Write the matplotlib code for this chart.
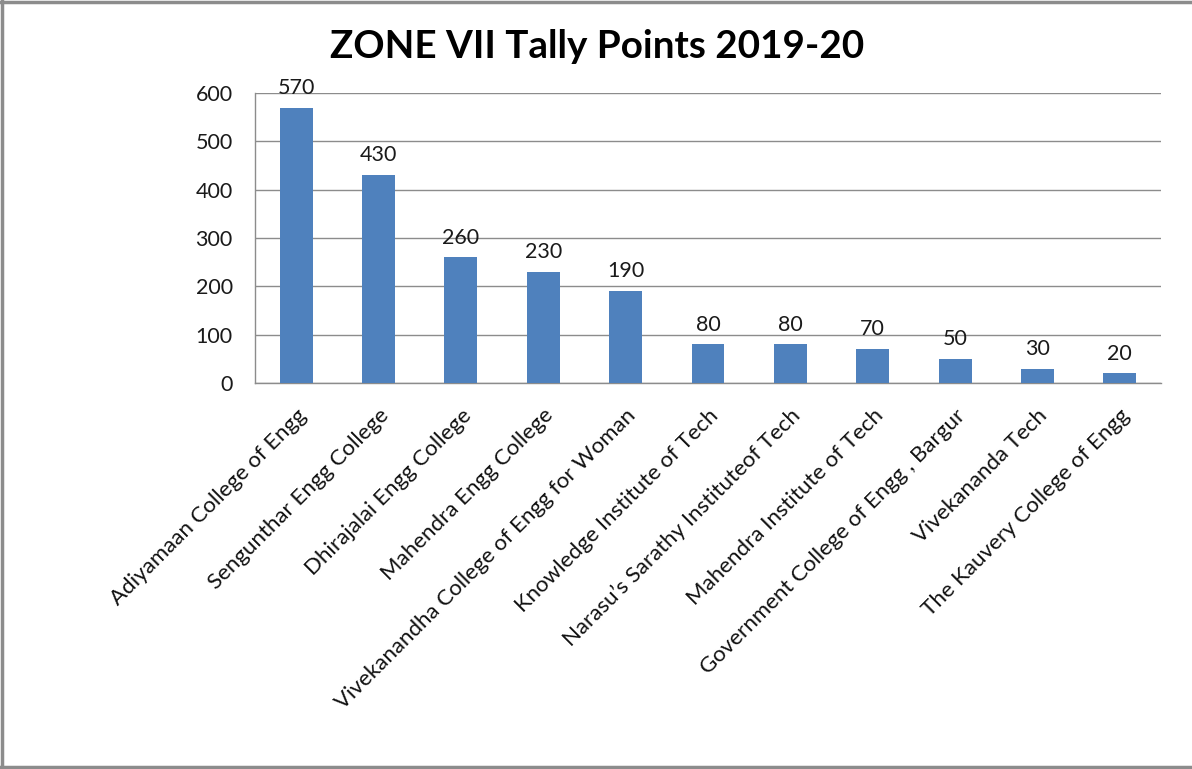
import matplotlib
matplotlib.use("Agg")
import matplotlib.pyplot as plt
from matplotlib.lines import Line2D

colleges = [
    "Adiyamaan College of Engg",
    "Sengunthar Engg College",
    "Dhirajalai Engg College",
    "Mahendra Engg College",
    "Vivekanandha College of Engg for Woman",
    "Knowledge Institute of Tech",
    "Narasu\u2019s Sarathy Instituteof Tech",
    "Mahendra Institute of Tech",
    "Government College of Engg , Bargur",
    "Vivekananda Tech",
    "The Kauvery College of Engg",
]
points = [570, 430, 260, 230, 190, 80, 80, 70, 50, 30, 20]
y_ticks = [0, 100, 200, 300, 400, 500, 600]
title = "ZONE VII Tally Points 2019-20"

plt.rcParams['font.family'] = ['Lato', 'DejaVu Sans']

fig = plt.figure(figsize=(11.92, 7.69), dpi=100)
ax = fig.add_axes([255/1192, 1-383/769, (1161-255)/1192, (383-93)/769])

x = list(range(len(colleges)))
bar_color = "#4F81BD"
ax.bar(x, points, width=0.4, color=bar_color, zorder=3)
for xi, v in zip(x, points):
    ax.annotate(str(v), (xi, v), xytext=(0, 7), textcoords="offset points",
                ha="center", va="bottom", fontsize=15.5, color="#1a1a1a", zorder=4)

ax.set_xlim(-0.5, len(colleges) - 0.5)
ax.set_ylim(0, 600)
ax.set_yticks(y_ticks)
ax.set_yticklabels([str(t) for t in y_ticks], fontsize=15.5, color="#1a1a1a")
ax.yaxis.grid(True, color="#8c8c8c", linewidth=1.0, zorder=0)
ax.set_axisbelow(True)
ax.tick_params(axis="y", length=0, pad=16)
ax.tick_params(axis="x", length=0, pad=16)
ax.set_xticks(x)
ax.set_xticklabels(colleges, rotation=45, ha="right", rotation_mode="anchor",
                   fontsize=16, color="#111111")
for s in ["top", "right"]:
    ax.spines[s].set_visible(False)
for s in ["left", "bottom"]:
    ax.spines[s].set_color("#8c8c8c")
    ax.spines[s].set_linewidth(1.0)

fig.text(597/1192, 1-47/769, title, ha="center", va="center",
         fontsize=27.8, fontweight="bold", color="black")

# chart frame
fc = "#8c8c8c"
fig.add_artist(Line2D([2/1192, 2/1192], [0, 1], transform=fig.transFigure, color=fc, lw=2.5))
fig.add_artist(Line2D([0, 1], [1-2/769, 1-2/769], transform=fig.transFigure, color=fc, lw=2.5))
fig.add_artist(Line2D([0, 1], [1-767/769, 1-767/769], transform=fig.transFigure, color=fc, lw=2.5))

fig.savefig("out.png", dpi=100, facecolor="white")
